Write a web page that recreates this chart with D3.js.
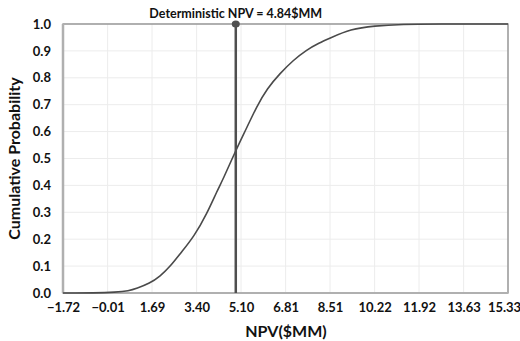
<!DOCTYPE html>
<html>
<head>
<meta charset="utf-8">
<script src="https://cdn.jsdelivr.net/npm/d3@7"></script>
<style>
  body { margin: 0; background: #fff; }
  text { font-family: Lato, "Open Sans", sans-serif; font-weight: bold; fill: #111; }
</style>
</head>
<body>
<svg id="chart"></svg>
<script>
// cumulative distribution
const npv = [-1.72, -0.5, 0.3, 0.8, 1.1, 1.6, 2.0, 2.4, 2.8, 3.3, 3.8, 4.2, 4.4, 4.9, 5.3, 5.7, 6.1, 6.6, 7.1, 7.6, 8.1, 8.5, 9.3, 10.2, 11.3, 12.5, 15.33];
const prob = [0, 0, 0.003, 0.008, 0.017, 0.036, 0.062, 0.10, 0.15, 0.21, 0.296, 0.383, 0.42, 0.53, 0.61, 0.693, 0.76, 0.817, 0.865, 0.903, 0.93, 0.947, 0.981, 0.993, 0.999, 1.0, 1.0];
const xTicks = [-1.72, -0.01, 1.69, 3.40, 5.10, 6.81, 8.51, 10.22, 11.92, 13.63, 15.33];
const yTicks = [0, 0.1, 0.2, 0.3, 0.4, 0.5, 0.6, 0.7, 0.8, 0.9, 1.0];
const detNpv = 4.84;
const detLineX = 4.9;

let svgWidth = 520, svgHeight = 341;
let margin = { top: 24, right: 12, bottom: 48, left: 63 };
let width = svgWidth - margin.left - margin.right;
let height = svgHeight - margin.top - margin.bottom;

let svg = d3.select("#chart").attr("width", svgWidth).attr("height", svgHeight);
let g = svg.append("g").attr("transform", "translate(" + margin.left + "," + margin.top + ")");

let x = d3.scaleLinear().domain([-1.72, 15.33]).range([0, width]);
let y = d3.scaleLinear().domain([0, 1]).range([height, 0]);

// grid
g.append("g")
  .selectAll("line")
  .data(xTicks)
  .join("line")
  .attr("x1", d => x(d)).attr("x2", d => x(d))
  .attr("y1", 0).attr("y2", height)
  .attr("stroke", "#ececec");
g.append("g")
  .selectAll("line")
  .data(yTicks)
  .join("line")
  .attr("y1", d => y(d)).attr("y2", d => y(d))
  .attr("x1", 0).attr("x2", width)
  .attr("stroke", "#ececec");

// frame
g.append("rect")
  .attr("width", width).attr("height", height)
  .attr("fill", "none").attr("stroke", "#8a8a8a").attr("stroke-width", 1.3);
g.append("line")
  .attr("x1", 0).attr("x2", 0).attr("y1", 0).attr("y2", height)
  .attr("stroke", "#b0b0b0").attr("stroke-width", 2.5);
g.append("line")
  .attr("x1", 0).attr("x2", width).attr("y1", height).attr("y2", height)
  .attr("stroke", "#b0b0b0").attr("stroke-width", 2);

// axes
let xAxis = d3.axisBottom(x).tickValues(xTicks).tickFormat(d3.format(".2f")).tickSize(0).tickPadding(10);
let yAxis = d3.axisLeft(y).tickValues(yTicks).tickFormat(d3.format(".1f")).tickSize(0).tickPadding(12);
let xg = g.append("g").attr("transform", "translate(0," + height + ")").call(xAxis);
xg.select(".domain").remove();
xg.selectAll("text").style("font-size", "13px").attr("fill", "#111")
  .attr("dx", (d, i) => i === xTicks.length - 1 ? -4 : 0);
let yg = g.append("g").call(yAxis);
yg.select(".domain").remove();
yg.selectAll("text").style("font-size", "13px").attr("fill", "#111");

// axis titles
svg.append("text")
  .attr("x", 286).attr("y", 337)
  .attr("text-anchor", "middle").style("font-size", "16px")
  .text("NPV($MM)");
svg.append("text")
  .attr("transform", "translate(20," + (margin.top + height / 2) + ") rotate(-90)")
  .attr("text-anchor", "middle").style("font-size", "16px")
  .text("Cumulative Probability");

// curve
let line = d3.line().x((d, i) => x(npv[i])).y(d => y(d)).curve(d3.curveMonotoneX);
g.append("path")
  .datum(prob)
  .attr("fill", "none")
  .attr("stroke", "#4a4a4a")
  .attr("stroke-width", 1.6)
  .attr("d", d3.line().x((d, i) => x(npv[i])).y(d => y(d)).curve(d3.curveBasis)(prob));

// deterministic marker
g.append("line")
  .attr("x1", x(detLineX)).attr("x2", x(detLineX))
  .attr("y1", y(1)).attr("y2", y(0))
  .attr("stroke", "#4f4f4f").attr("stroke-width", 2.5);
g.append("ellipse")
  .attr("cx", x(detLineX)).attr("cy", y(1))
  .attr("rx", 4).attr("ry", 3.5)
  .attr("fill", "#4f4f4f");
svg.append("text")
  .attr("x", margin.left + x(detLineX)).attr("y", 18)
  .attr("text-anchor", "middle").style("font-size", "12.5px")
  .text("Deterministic NPV = " + detNpv + "$MM");
</script>
</body>
</html>
